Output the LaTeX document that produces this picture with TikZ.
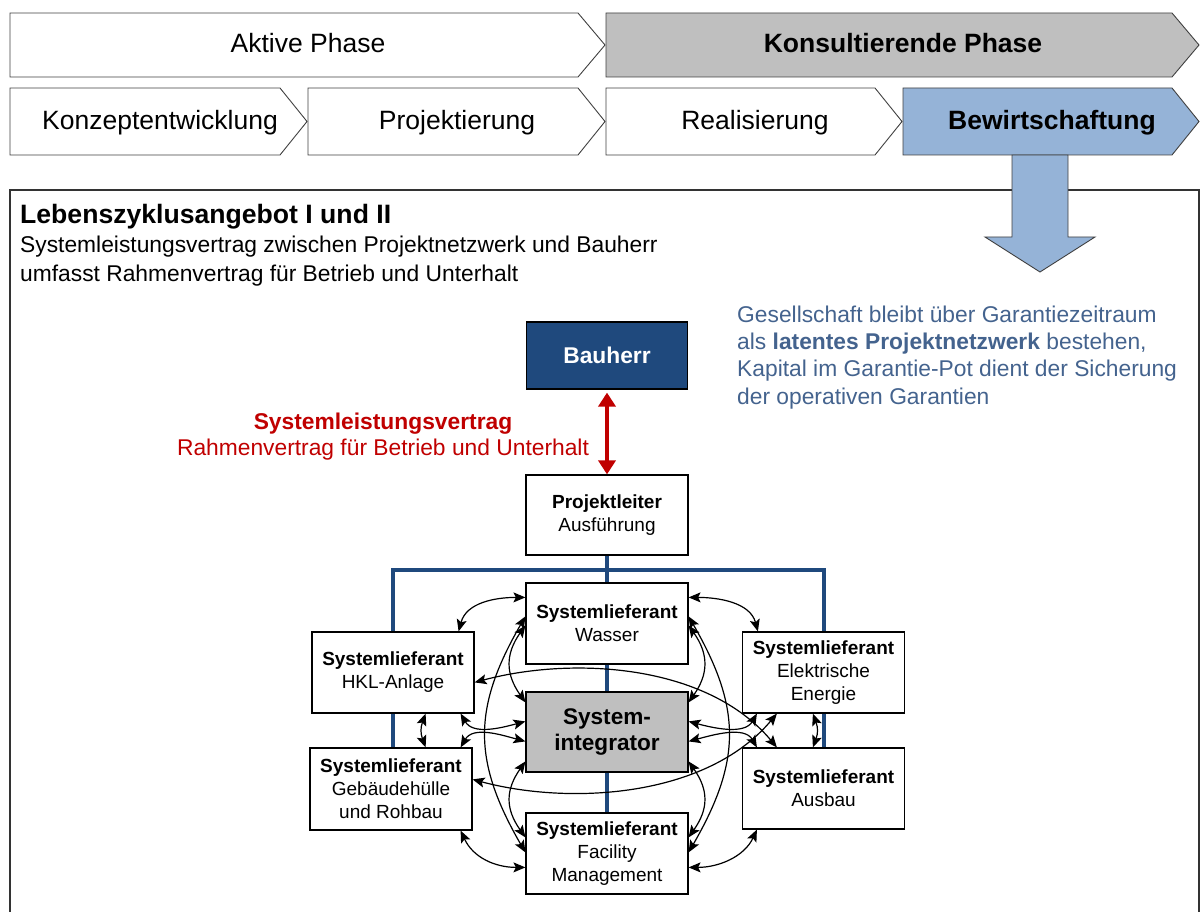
\documentclass[tikz,border=0pt]{standalone}
\usepackage{fontspec}
\setmainfont{Liberation Sans}
\usetikzlibrary{arrows.meta,backgrounds}
\definecolor{navy}{HTML}{1F497D}
\definecolor{phasegray}{HTML}{BFBFBF}
\definecolor{phaseblue}{HTML}{95B3D7}
\definecolor{noteblue}{RGB}{68,99,142}
\definecolor{contractred}{HTML}{C00000}
\newcommand\fsz[2]{\fontsize{#1}{#2}\selectfont}
% chevron: x-left, x-tip, y-top, y-bottom, fill
\newcommand\chevron[5]{\draw[chev,fill=#5] (#1,-#3) -- ({#2-27},-#3) -- (#2,{-(#3+#4)/2}) -- ({#2-27},-#4) -- (#1,-#4) -- cycle;}
\begin{document}
\begin{tikzpicture}[x=1pt,y=1pt,
  chev/.style={draw=black!75,line width=0.9pt},
  phaselabel/.style={anchor=base,inner sep=0pt,font=\fsz{26.5}{30}},
  box/.style={draw=black,line width=1.2pt,fill=white,minimum width=162pt,minimum height=81pt,inner sep=0pt,align=center,font=\fsz{19}{23}},
  link/.style={draw=black,line width=1.2pt,{Stealth[length=12pt,width=10pt,inset=2.5pt]}-{Stealth[length=12pt,width=10pt,inset=2.5pt]}},
  redlink/.style={draw=contractred,line width=3.5pt,{Triangle[length=14pt,width=17pt]}-{Triangle[length=14pt,width=17pt]}},
  bus/.style={draw=navy,line width=4pt},
  textline/.style={anchor=base west,inner sep=0pt,font=\fsz{22.8}{27}},
]
\useasboundingbox (0,0) rectangle (1200,-912);

% phase chevrons
\chevron{10}{605}{13}{77}{white}
\chevron{606}{1199}{13}{77}{phasegray}
\chevron{10}{307}{88}{155}{white}
\chevron{308}{605}{88}{155}{white}
\chevron{606}{902}{88}{155}{white}
\chevron{903}{1199}{88}{155}{phaseblue}
\node[phaselabel] (aktiv) at (308,-53) {Aktive Phase};
\node[phaselabel,font=\bfseries\fsz{26.5}{30}] (konsult) at (903,-53) {Konsultierende Phase};
\node[phaselabel] (konzept) at (160,-130) {Konzeptentwicklung};
\node[phaselabel] (projekt) at (457,-130) {Projektierung};
\node[phaselabel] (real) at (755,-130) {Realisierung};
\node[phaselabel,font=\bfseries\fsz{26.5}{30}] (bewirt) at (1052,-130) {Bewirtschaftung};

% frame of the life-cycle offer
\draw[draw=black!80,line width=1.2pt] (10,-915) -- (10,-190) -- (1199,-190) -- (1199,-915);

% arrow from the operation phase into the frame
\draw[chev,fill=phaseblue] (1012,-155) -- (1012,-237) -- (985,-237) -- (1040,-272) -- (1095,-237) -- (1068,-237) -- (1068,-155) -- cycle;

% heading texts
\node[textline,font=\bfseries\fsz{26.6}{30}] (title) at (20,-224) {Lebenszyklusangebot I und II};
\node[textline] (sub1) at (20,-253) {Systemleistungsvertrag zwischen Projektnetzwerk und Bauherr};
\node[textline] (sub2) at (20,-281) {umfasst Rahmenvertrag für Betrieb und Unterhalt};

\node[textline,text=noteblue] (note1) at (737,-322) {Gesellschaft bleibt über Garantiezeitraum};
\node[textline,text=noteblue] (note2) at (737,-349) {als \textbf{latentes Projektnetzwerk} bestehen,};
\node[textline,text=noteblue] (note3) at (737,-376) {Kapital im Garantie-Pot dient der Sicherung};
\node[textline,text=noteblue] (note4) at (737,-404) {der operativen Garantien};

% contract labels
\node[anchor=base,inner sep=0pt,text=contractred,font=\bfseries\fsz{22.8}{27}] (slv) at (383,-429) {Systemleistungsvertrag};
\node[anchor=base,inner sep=0pt,text=contractred,font=\fsz{22.8}{27}] (rv) at (383,-455) {Rahmenvertrag für Betrieb und Unterhalt};

% organisation boxes
\node[box,fill=navy,text=white,font=\bfseries\fsz{22.8}{27},minimum width=161pt,minimum height=67pt] (bauherr) at (607,-355.5) {Bauherr};
\node[box,minimum height=80pt] (pl) at (607,-515) {\textbf{Projektleiter}\\Ausführung};
\node[box] (wasser) at (607,-623.5) {\textbf{Systemlieferant}\\Wasser};
\node[box] (hkl) at (393,-672.5) {\textbf{Systemlieferant}\\HKL-Anlage};
\node[box] (elek) at (823.5,-672.5) {\textbf{Systemlieferant}\\Elektrische\\Energie};
\node[box,fill=phasegray,minimum height=80pt,font=\bfseries\fsz{22.6}{25}] (si) at (607,-732) {System-\\integrator};
\node[box,minimum height=82pt] (geb) at (391,-789) {\textbf{Systemlieferant}\\Gebäudehülle\\und Rohbau};
\node[box] (ausbau) at (823.5,-788.5) {\textbf{Systemlieferant}\\Ausbau};
\node[box] (fm) at (607,-853.5) {\textbf{Systemlieferant}\\Facility\\Management};

% organisation tree behind the boxes
\coordinate (busy) at (0,-570);
\begin{scope}[on background layer]
  \draw[bus] (pl.south) -- (fm.north);
  \draw[bus] (hkl.center |- geb.north) -- (hkl.center |- busy) -- (elek.center |- busy) -- (elek.center |- ausbau.north);
\end{scope}

% contract between client and project lead
\draw[redlink,shorten <=3pt] (bauherr.south) -- (bauherr.south |- pl.north);

% interfaces between the system suppliers
\draw[link] ([xshift=-16pt]hkl.north east) .. controls +(75:30pt) and +(180:30pt) .. ([yshift=-15pt]wasser.north west);
\draw[link] ([yshift=-15pt]wasser.north east) .. controls +(0:30pt) and +(105:30pt) .. ([xshift=16pt]elek.north west);
\draw[link] ([yshift=-34pt]wasser.north west) .. controls +(240:106pt) and +(120:106pt) .. ([yshift=-40pt]fm.north west);
\draw[link] ([yshift=-43pt]wasser.north west) .. controls +(235:35pt) and +(125:35pt) .. ([yshift=-11pt]si.north west);
\draw[link] ([yshift=-70pt]si.north west) .. controls +(235:35pt) and +(125:35pt) .. ([yshift=-25pt]fm.north west);
\draw[link] ([yshift=-34pt]wasser.north east) .. controls +(-60:106pt) and +(60:106pt) .. ([yshift=-40pt]fm.north east);
\draw[link] ([yshift=-43pt]wasser.north east) .. controls +(-55:35pt) and +(55:35pt) .. ([yshift=-11pt]si.north east);
\draw[link] ([yshift=-70pt]si.north east) .. controls +(-55:35pt) and +(55:35pt) .. ([yshift=-25pt]fm.north east);
\draw[link] ([yshift=-51pt]hkl.north east) .. controls +(15:100pt) and +(130:110pt) .. ([xshift=35pt]ausbau.north west);
\draw[link] ([yshift=-32pt]geb.north east) .. controls +(-15:100pt) and +(230:110pt) .. ([xshift=35pt]elek.south west);
\draw[link] ([xshift=-14pt]hkl.south east) .. controls +(-60:25pt) and +(195:25pt) .. ([yshift=-30pt]si.north west);
\draw[link] ([xshift=-12pt]geb.north east) .. controls +(60:25pt) and +(165:25pt) .. ([yshift=-50pt]si.north west);
\draw[link] ([xshift=-49pt]hkl.south east) .. controls +(-110:15pt) and +(110:15pt) .. ([xshift=-47pt]geb.north east);
\draw[link] ([xshift=71pt]elek.south west) .. controls +(-70:15pt) and +(70:15pt) .. ([xshift=71pt]ausbau.north west);
\draw[link] ([xshift=15pt]elek.south west) .. controls +(240:25pt) and +(-15:25pt) .. ([yshift=-30pt]si.north east);
\draw[link] ([xshift=15pt]ausbau.north west) .. controls +(120:25pt) and +(15:25pt) .. ([yshift=-50pt]si.north east);
\draw[link] ([xshift=-12pt]geb.south east) .. controls +(-65:30pt) and +(180:30pt) .. ([yshift=-55pt]fm.north west);
\draw[link] ([xshift=15pt]ausbau.south west) .. controls +(245:30pt) and +(0:30pt) .. ([yshift=-55pt]fm.north east);
\end{tikzpicture}
\end{document}
